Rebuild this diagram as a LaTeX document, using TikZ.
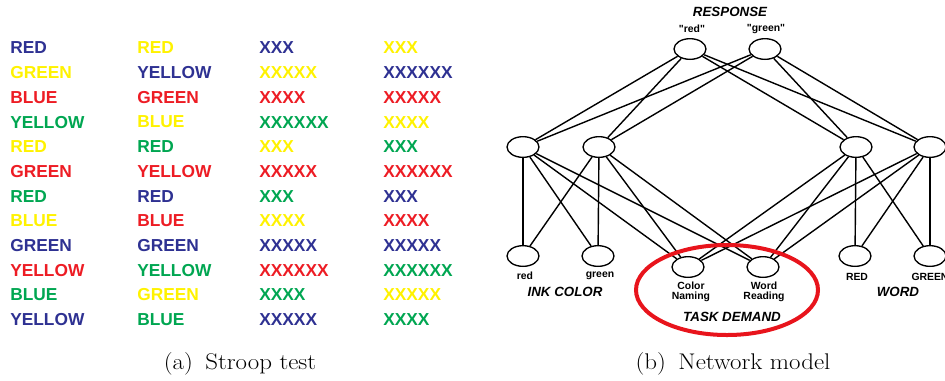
\documentclass[tikz,border=0pt]{standalone}
\usepackage{fontspec}
\newfontfamily\labelsans{Liberation Sans}
\usetikzlibrary{shapes.geometric}

\definecolor{sblue}{HTML}{2E3192}
\definecolor{syellow}{HTML}{FFF200}
\definecolor{sred}{HTML}{ED1C24}
\definecolor{sgreen}{HTML}{00A651}
\definecolor{ringred}{HTML}{E8141C}

\tikzset{
  stroopword/.style={anchor=west, inner sep=0pt,
    font=\labelsans\bfseries\fontsize{13}{13}\selectfont},
  unit/.style={ellipse, draw, line width=1pt, minimum width=24pt,
    minimum height=15.5pt, inner sep=0pt},
  link/.style={line width=1.05pt},
  unitlabel/.style={inner sep=0pt, align=center,
    font=\labelsans\bfseries\fontsize{7.8}{7.4}\selectfont},
  grouplabel/.style={inner sep=0pt,
    font=\labelsans\bfseries\itshape\fontsize{10}{10}\selectfont},
  subcap/.style={inner sep=0pt, anchor=base, font=\fontsize{17}{19}\selectfont}
}

\begin{document}
\begin{tikzpicture}[x=0.75pt, y=-0.75pt]
\useasboundingbox (0,0) rectangle (945,380);

% ---- Stroop test: four columns of coloured words / strings ----
\foreach \txt/\col [count=\i] in {RED/sblue, GREEN/syellow, BLUE/sred,
    YELLOW/sgreen, RED/syellow, GREEN/sred, RED/sgreen, BLUE/syellow,
    GREEN/sblue, YELLOW/sred, BLUE/sgreen, YELLOW/sblue}
  \node[stroopword, text=\col] (ca\i) at (10, {48+(\i-1)*24.7}) {\txt};

\foreach \txt/\col [count=\i] in {RED/syellow, YELLOW/sblue, GREEN/sred,
    BLUE/syellow, RED/sgreen, YELLOW/sred, RED/sblue, BLUE/sred,
    GREEN/sblue, YELLOW/sgreen, GREEN/syellow, BLUE/sgreen}
  \node[stroopword, text=\col] (cb\i) at (137, {48+(\i-1)*24.7}) {\txt};

\foreach \txt/\col [count=\i] in {XXX/sblue, XXXXX/syellow, XXXX/sred,
    XXXXXX/sgreen, XXX/syellow, XXXXX/sred, XXX/sgreen, XXXX/syellow,
    XXXXX/sblue, XXXXXX/sred, XXXX/sgreen, XXXXX/sblue}
  \node[stroopword, text=\col] (cc\i) at (259, {48+(\i-1)*24.7}) {\txt};

\foreach \txt/\col [count=\i] in {XXX/syellow, XXXXXX/sblue, XXXXX/sred,
    XXXX/syellow, XXX/sgreen, XXXXXX/sred, XXX/sblue, XXXX/sred,
    XXXXX/sblue, XXXXXX/sgreen, XXXXX/syellow, XXXX/sgreen}
  \node[stroopword, text=\col] (cd\i) at (383, {48+(\i-1)*24.7}) {\txt};

% ---- Network model ----
% response layer
\node[unit] (r1) at (690,49) {};
\node[unit] (r2) at (765,49) {};
% hidden layer
\node[unit] (h1) at (523,147) {};
\node[unit] (h2) at (599,147) {};
\node[unit] (h3) at (856,147) {};
\node[unit] (h4) at (930,147) {};
% input layer
\node[unit] (inkr) at (523,256) {};
\node[unit] (inkg) at (598,256) {};
\node[unit] (cn)   at (688,267) {};
\node[unit] (wr)   at (763,267) {};
\node[unit] (wdr)  at (855,256) {};
\node[unit] (wdg)  at (930,256) {};

% connections
\foreach \a in {r1,r2}
  \foreach \b in {h1,h2,h3,h4}
    \draw[link] (\a) -- (\b);
\foreach \a in {h1,h2}
  \foreach \b in {inkr,inkg,cn,wr}
    \draw[link] (\a) -- (\b);
\foreach \a in {h3,h4}
  \foreach \b in {wdr,wdg,cn,wr}
    \draw[link] (\a) -- (\b);

% unit labels
\node[grouplabel] (lresp) at (730,12) {RESPONSE};
\node[unitlabel] (lr1) at (692,29) {"red"};
\node[unitlabel] (lr2) at (766,29) {"green"};
\node[unitlabel] (linkr) at (525,276) {red};
\node[unitlabel] (linkg) at (600,276) {green};
\node[grouplabel] (link) at (565,292) {INK COLOR};
\node[unitlabel] (lcn) at (691,292) {Color\\Naming};
\node[unitlabel] (lwr) at (764,292) {Word\\Reading};
\node[grouplabel] (ltask) at (732,317) {TASK DEMAND};
\node[unitlabel] (lwdr) at (857,277) {RED};
\node[unitlabel] (lwdg) at (930,277) {GREEN};
\node[grouplabel] (lword) at (898,292) {WORD};

% highlight round the task-demand units
\draw[ringred, line width=3pt] (727,290) ellipse [x radius=68.25pt, y radius=33.75pt];

% ---- sub-captions ----
\node[subcap] (capa) at (240,369) {\scalebox{1.1}[1]{(a)\hspace{0.5em}Stroop test}};
\node[subcap] (capb) at (733,369) {\scalebox{1.1}[1]{(b)\hspace{0.5em}Network model}};
\end{tikzpicture}
\end{document}
